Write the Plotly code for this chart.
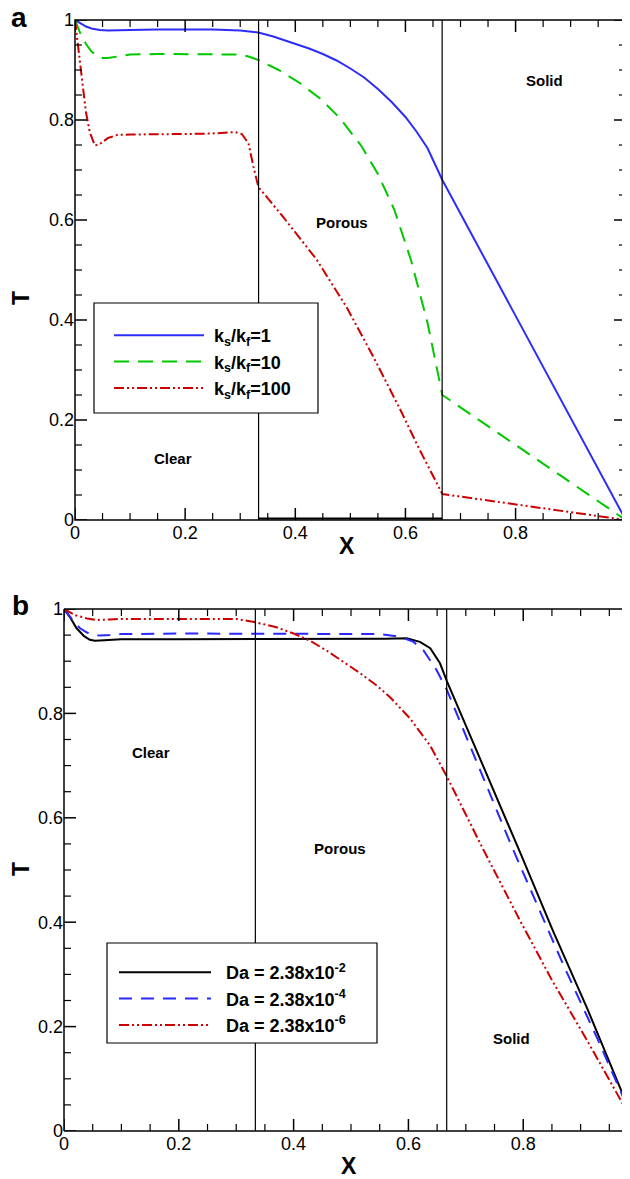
import plotly.graph_objects as go

# ---- panel a : effect of ks/kf ----
x_k1 = [0, 0.01, 0.02, 0.03, 0.045, 0.06, 0.08, 0.1, 0.15, 0.2, 0.25, 0.3, 0.333,
        0.36, 0.38, 0.4, 0.425, 0.45, 0.475, 0.5, 0.525, 0.55, 0.575, 0.6, 0.62, 0.64, 0.667, 1.0]
T_k1 = [1.0, 0.993, 0.987, 0.983, 0.98, 0.979, 0.979, 0.98, 0.981, 0.981, 0.981, 0.979, 0.975,
        0.967, 0.960, 0.952, 0.943, 0.932, 0.919, 0.903, 0.885, 0.862, 0.836, 0.806, 0.777, 0.744, 0.68, 0.0]

x_k10 = [0, 0.01, 0.02, 0.03, 0.04, 0.05, 0.06, 0.08, 0.1, 0.15, 0.2, 0.25, 0.3, 0.315, 0.333,
         0.37, 0.408, 0.445, 0.48, 0.52, 0.55, 0.58, 0.61, 0.64, 0.667, 1.0]
T_k10 = [1.0, 0.972, 0.952, 0.937, 0.928, 0.924, 0.924, 0.928, 0.931, 0.932, 0.932, 0.932, 0.931, 0.927, 0.92,
         0.9, 0.874, 0.843, 0.805, 0.748, 0.692, 0.62, 0.52, 0.395, 0.25, 0.0]

x_k100 = [0, 0.005, 0.01, 0.015, 0.02, 0.027, 0.036, 0.045, 0.06, 0.076, 0.1, 0.15, 0.2, 0.25, 0.29,
          0.303, 0.315, 0.324, 0.333, 0.378, 0.438, 0.493, 0.541, 0.59, 0.626, 0.667, 1.0]
T_k100 = [1.0, 0.95, 0.9, 0.86, 0.815, 0.775, 0.749, 0.752, 0.764, 0.77, 0.771, 0.771, 0.772, 0.773, 0.776,
          0.772, 0.753, 0.707, 0.666, 0.606, 0.522, 0.426, 0.328, 0.222, 0.14, 0.052, 0.0]

# ---- panel b : effect of Da ----
x_da2 = [0, 0.01, 0.022, 0.035, 0.045, 0.054, 0.07, 0.1, 0.2, 0.3, 0.4, 0.5, 0.56, 0.597,
         0.62, 0.638, 0.655, 0.667, 0.736, 0.794, 0.852, 0.911, 1.0]
T_da2 = [1.0, 0.985, 0.963, 0.948, 0.941, 0.939, 0.940, 0.942, 0.942, 0.942, 0.942, 0.942, 0.943, 0.944,
         0.937, 0.925, 0.896, 0.862, 0.685, 0.535, 0.383, 0.236, 0.0]

x_da4 = [0, 0.01, 0.02, 0.028, 0.04, 0.05, 0.063, 0.08, 0.1, 0.2, 0.3, 0.4, 0.5, 0.55, 0.585,
         0.609, 0.626, 0.649, 0.667, 0.78, 0.87, 0.93, 1.0]
T_da4 = [1.0, 0.985, 0.972, 0.963, 0.955, 0.951, 0.949, 0.950, 0.952, 0.953, 0.953, 0.953, 0.953, 0.952, 0.947,
         0.937, 0.921, 0.883, 0.845, 0.545, 0.318, 0.175, 0.0]

x_da6 = [0, 0.02, 0.04, 0.057, 0.08, 0.1, 0.2, 0.3, 0.336, 0.37, 0.4, 0.429, 0.458, 0.487, 0.516, 0.543,
         0.568, 0.603, 0.638, 0.667, 0.73, 0.794, 0.85, 0.911, 1.0]
T_da6 = [1.0, 0.988, 0.982, 0.979, 0.980, 0.981, 0.981, 0.981, 0.974, 0.965, 0.953, 0.939, 0.920, 0.899, 0.877, 0.855,
         0.831, 0.790, 0.738, 0.679, 0.54, 0.404, 0.289, 0.174, 0.0]

names_a = ["<b>k<sub>s</sub>/k<sub>f</sub>=1</b>", "<b>k<sub>s</sub>/k<sub>f</sub>=10</b>",
           "<b>k<sub>s</sub>/k<sub>f</sub>=100</b>"]
names_b = ["<b>Da = 2.38x10<sup>-2</sup></b>", "<b>Da = 2.38x10<sup>-4</sup></b>",
           "<b>Da = 2.38x10<sup>-6</sup></b>"]

major_ticks = [0, 0.2, 0.4, 0.6, 0.8, 1.0]
minor_ticks = [0.05, 0.1, 0.15, 0.25, 0.3, 0.35, 0.45, 0.5, 0.55, 0.65, 0.7, 0.75, 0.85, 0.9, 0.95]
interfaces = [1 / 3, 2 / 3]

# the page body keeps its 8px margin, so the figure is drawn 8px in from the corner
OFF = 8
W, H = 630 - OFF, 1179 - OFF
FONT = "Liberation Sans, Arial, Helvetica, sans-serif"

def px(x):
    return (x - OFF) / W

def py(y):
    return 1 - (y - OFF) / H

fig = go.Figure()

BLUE, GREEN, RED = "rgb(45,45,250)", "rgb(0,200,0)", "rgb(205,0,0)"
DDOT = "10px,3px,2px,3px,2px,3px"

fig.add_trace(go.Scatter(x=x_k1, y=T_k1, mode="lines", name="&nbsp;" + names_a[0], legend="legend",
                         line=dict(color=BLUE, width=2)))
fig.add_trace(go.Scatter(x=x_k10, y=T_k10, mode="lines", name="&nbsp;" + names_a[1], legend="legend",
                         line=dict(color=GREEN, width=2, dash="15px,9px")))
fig.add_trace(go.Scatter(x=x_k100, y=T_k100, mode="lines", name="&nbsp;" + names_a[2], legend="legend",
                         line=dict(color=RED, width=2, dash=DDOT)))

fig.add_trace(go.Scatter(x=x_da2, y=T_da2, mode="lines", name="&nbsp;&nbsp;" + names_b[0], legend="legend2",
                         xaxis="x2", yaxis="y2", line=dict(color="black", width=2)))
fig.add_trace(go.Scatter(x=x_da4, y=T_da4, mode="lines", name="&nbsp;&nbsp;" + names_b[1], legend="legend2",
                         xaxis="x2", yaxis="y2", line=dict(color="rgb(40,40,255)", width=2, dash="13px,9px")))
fig.add_trace(go.Scatter(x=x_da6, y=T_da6, mode="lines", name="&nbsp;&nbsp;" + names_b[2], legend="legend2",
                         xaxis="x2", yaxis="y2", line=dict(color=RED, width=2, dash=DDOT)))

base = dict(showline=False, ticks="", tickvals=major_ticks, showgrid=False, zeroline=False,
            ticklabeloverflow="allow", tickfont=dict(family=FONT, size=18, color="black"))

fig.update_layout(
    template="none",
    width=W, height=H, margin=dict(l=0, r=0, t=0, b=0, autoexpand=False),
    plot_bgcolor="white", paper_bgcolor="white",
    font=dict(family=FONT, color="black"),
    xaxis=dict(base, domain=[px(75), px(626)], range=[0, 1.0005], anchor="y"),
    yaxis=dict(base, domain=[py(520), py(20)], range=[0, 1], anchor="x", ticksuffix=" "),
    xaxis2=dict(base, domain=[px(64), 1], range=[0, 0.986], anchor="y2"),
    yaxis2=dict(base, domain=[py(1131), py(609)], range=[0, 1], anchor="x2", ticksuffix=" "),
    legend=dict(x=px(109), y=py(317), xanchor="left", yanchor="top", bgcolor="rgba(0,0,0,0)",
                font=dict(family=FONT, size=18, color="black"), itemwidth=90, tracegroupgap=0),
    legend2=dict(x=px(114), y=py(954), xanchor="left", yanchor="top", bgcolor="rgba(0,0,0,0)",
                 font=dict(family=FONT, size=18, color="black"), itemwidth=92, tracegroupgap=0),
    showlegend=True,
)

FRAME = dict(color="black", width=1.5)
TICK = dict(color="black", width=1.5)
MINOR = dict(color="black", width=1.2)

shapes = []
# region interfaces
for xr, yr in [("x", "y"), ("x2", "y2")]:
    for xv in interfaces:
        shapes.append(dict(type="line", xref=xr, yref=yr, x0=xv, x1=xv, y0=0, y1=1,
                           line=dict(color="black", width=1.2)))
shapes.append(dict(type="line", xref="x", yref="y", x0=interfaces[0], x1=interfaces[1], y0=0.003, y1=0.003,
                   line=dict(color="black", width=2)))

# frames: full box for a, right edge of b is outside the page
shapes.append(dict(type="rect", xref="x domain", yref="y domain", x0=0, x1=1, y0=0, y1=1, line=FRAME))
for x0, x1, y0, y1 in [(0, 0, 0, 1), (0, 1, 0, 0), (0, 1, 1, 1)]:
    shapes.append(dict(type="line", xref="x2 domain", yref="y2 domain",
                       x0=x0, x1=x1, y0=y0, y1=y1, line=FRAME))

# inside ticks on all four sides
panels = [("x", "y", 1.0, 0), ("x2", "y2", 0.986, 6)]
for xr, yr, xmax, right_shift in panels:
    for vals, L, ln in [(major_ticks, 12, TICK), (minor_ticks, 7, MINOR)]:
        for v in vals:
            if v <= xmax:
                shapes.append(dict(type="line", xref=xr, yref=yr + " domain", ysizemode="pixel",
                                   yanchor=0, x0=v, x1=v, y0=0, y1=L, line=ln))
                shapes.append(dict(type="line", xref=xr, yref=yr + " domain", ysizemode="pixel",
                                   yanchor=1, x0=v, x1=v, y0=0, y1=-L, line=ln))
            shapes.append(dict(type="line", xref=xr + " domain", yref=yr, xsizemode="pixel",
                               xanchor=0, x0=0, x1=L, y0=v, y1=v, line=ln))
            shapes.append(dict(type="line", xref=xr + " domain", yref=yr, xsizemode="pixel",
                               xanchor=1, x0=right_shift, x1=right_shift - L, y0=v, y1=v, line=ln))

# legend boxes
shapes.append(dict(type="rect", xref="paper", yref="paper", x0=px(94), x1=px(318), y0=py(413), y1=py(303),
                   line=dict(color="black", width=1.2), fillcolor="white"))
shapes.append(dict(type="rect", xref="paper", yref="paper", x0=px(107), x1=px(377), y0=py(1043), y1=py(943),
                   line=dict(color="black", width=1.2), fillcolor="white"))
fig.update_layout(shapes=shapes)

region_font = dict(family=FONT, size=15, color="black")
ann = [
    dict(x=0.178, y=0.124, xref="x", yref="y", text="<b>Clear</b>"),
    dict(x=0.485, y=0.596, xref="x", yref="y", text="<b>Porous</b>"),
    dict(x=0.853, y=0.88, xref="x", yref="y", text="<b>Solid</b>"),
    dict(x=0.151, y=0.725, xref="x2", yref="y2", text="<b>Clear</b>"),
    dict(x=0.481, y=0.542, xref="x2", yref="y2", text="<b>Porous</b>"),
    dict(x=0.78, y=0.178, xref="x2", yref="y2", text="<b>Solid</b>"),
]
for a in ann:
    fig.add_annotation(a, showarrow=False, font=region_font, xanchor="center", yanchor="middle")

title_font = dict(family=FONT, size=23, color="black")
letter_font = dict(family=FONT, size=28, color="black")
labels = [
    (347, 546, "<b>X</b>", title_font, 0),
    (349, 1166, "<b>X</b>", title_font, 0),
    (21, 298, "<b>T</b>", title_font, -90),
    (21, 869, "<b>T</b>", title_font, -90),
    (19, 17, "<b>a</b>", letter_font, 0),
    (20, 605, "<b>b</b>", letter_font, 0),
]
for lx, ly, txt, f, ang in labels:
    fig.add_annotation(x=px(lx), y=py(ly), xref="paper", yref="paper", text=txt, showarrow=False,
                       font=f, textangle=ang, xanchor="center", yanchor="middle")

fig.write_html("out.html")
